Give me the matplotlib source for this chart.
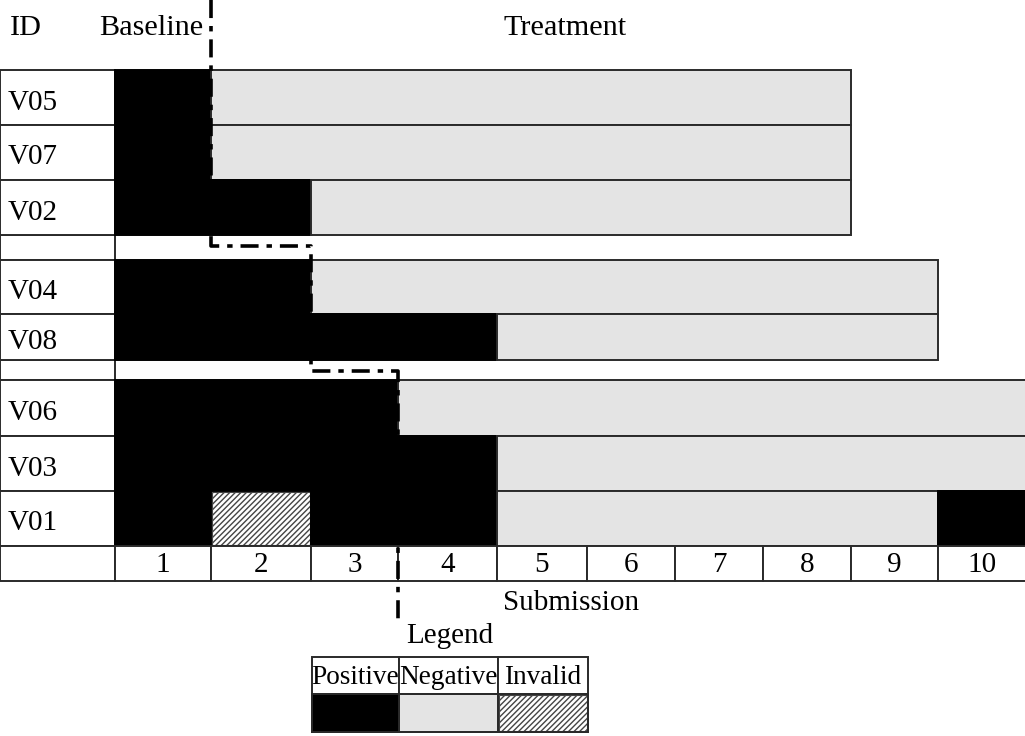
import matplotlib
matplotlib.use("Agg")
import matplotlib.pyplot as plt
from matplotlib.patches import Rectangle

plt.rcParams['font.family'] = ['Liberation Serif', 'DejaVu Serif']
plt.rcParams['hatch.linewidth'] = 1.0

# ---------------- data ----------------
participant_ids = ['V05', 'V07', 'V02', 'V04', 'V08', 'V06', 'V03', 'V01']
participant_group = [0, 0, 0, 1, 1, 2, 2, 2]
# outcome per submission: P = positive, N = negative, I = invalid
outcomes = [
    list('PNNNNNNN'),
    list('PNNNNNNN'),
    list('PPNNNNNN'),
    list('PPNNNNNNN'),
    list('PPPPNNNNN'),
    list('PPPNNNNNNN'),
    list('PPPPNNNNNN'),
    list('PIPPNNNNNP'),
]
submissions = [1, 2, 3, 4, 5, 6, 7, 8, 9, 10]
baseline_sessions = [1, 2, 3]          # baseline length per group
legend_labels = ['Positive', 'Negative', 'Invalid']
legend_codes = ['P', 'N', 'I']

# ---------------- layout (pixels) ----------------
W, H = 1025, 736
col_edges = [0, 115, 211, 311, 398, 497, 587, 675, 763, 851, 938, 1030]
row_tops = [70, 125, 180, 260, 314, 380, 436, 491]
row_bottoms = [125, 180, 235, 314, 360, 436, 491, 546]
gap_rows = [(235, 260), (360, 380)]
sub_row = (546, 581)
FS = 21
FS_HEAD = 21.8
EDGE = '#2a2a2a'
LW = 1.4
NEG = '#e4e4e4'

fig = plt.figure(figsize=(W / 100, H / 100), dpi=100)
ax = fig.add_axes([0, 0, 1, 1])
ax.set_xlim(0, W)
ax.set_ylim(H, 0)
ax.axis('off')


def cell(x0, x1, y0, y1, code=None):
    if code == 'P':
        r = Rectangle((x0, y0), x1 - x0, y1 - y0, facecolor='black', edgecolor='black', lw=LW)
    elif code == 'N':
        r = Rectangle((x0, y0), x1 - x0, y1 - y0, facecolor=NEG, edgecolor=EDGE, lw=LW)
    elif code == 'I':
        r = Rectangle((x0, y0), x1 - x0, y1 - y0, facecolor='white', edgecolor='#444444',
                      lw=0.8, hatch='//////')
    else:
        r = Rectangle((x0, y0), x1 - x0, y1 - y0, facecolor='white', edgecolor=EDGE, lw=LW)
    ax.add_patch(r)
    return r


# header
ax.text(10, 28, 'ID', fontsize=FS_HEAD, va='center', ha='left')
ax.text(99, 28, 'Baseline', fontsize=FS_HEAD, va='center', ha='left')
ax.text(565, 28, 'Treatment', fontsize=FS_HEAD, va='center', ha='center')

# gap rows (ID column cell + white area)
for (g0, g1) in gap_rows:
    cell(col_edges[0], col_edges[1], g0, g1)

# participant rows
for i, pid in enumerate(participant_ids):
    y0, y1 = row_tops[i], row_bottoms[i]
    cell(col_edges[0], col_edges[1], y0, y1)
    ax.text(8, (y0 + y1) / 2 + 5, pid, fontsize=FS, va='center', ha='left')
    seq = outcomes[i]
    # merge consecutive runs of the same outcome (invalid stays single)
    j = 0
    while j < len(seq):
        k = j
        while k + 1 < len(seq) and seq[k + 1] == seq[j] and seq[j] != 'I':
            k += 1
        x0 = col_edges[submissions[j]]
        x1 = col_edges[submissions[k] + 1]
        if seq[j] == 'I':
            cell(x0 + 1, x1 - 1, y0 + 1, y1 - 1, 'I')
        else:
            cell(x0, x1, y0, y1, seq[j])
        j = k + 1

# submission row
cell(col_edges[0], col_edges[1], sub_row[0], sub_row[1])
for s in submissions:
    x0, x1 = col_edges[s], col_edges[s + 1]
    cell(x0, x1, sub_row[0], sub_row[1])
    xc = (x0 + min(x1, W)) / 2
    ax.text(xc, (sub_row[0] + sub_row[1]) / 2 + 2, str(s), fontsize=FS,
            va='center', ha='center')
ax.text(571, 603, 'Submission', fontsize=FS, va='center', ha='center')

# baseline staircase (dash-dot)
xs, ys = [], []
y_start = 0
for g, nb in enumerate(baseline_sessions):
    x = col_edges[nb + 1]
    if g < len(gap_rows):
        y_end = (gap_rows[g][0] + gap_rows[g][1]) / 2 - (2 if g == 0 else -1)
    else:
        y_end = 622
    xs += [x, x]
    ys += [y_start, y_end]
    y_start = y_end
ax.plot(xs, ys, color='black', lw=2.6, linestyle=(0, (5, 2.2, 1.5, 2.2)),
        solid_capstyle='butt', zorder=10)

# legend
leg_cols = [3, 4, 5]
ax.text((col_edges[4] + col_edges[5]) / 2 + 2, 636, 'Legend', fontsize=FS,
        va='center', ha='center')
for lab, code, c in zip(legend_labels, legend_codes, leg_cols):
    x0, x1 = col_edges[c] + 1, col_edges[c + 1] + 1
    cell(x0, x1, 657, 694)
    ax.text((x0 + x1) / 2, 677, lab, fontsize=19.6, va='center', ha='center')
    if code == 'I':
        cell(x0, x1, 694, 732)
        cell(x0 + 1, x1 - 1, 695, 731, 'I')
    else:
        cell(x0, x1, 694, 732, code)
    ax.add_patch(Rectangle((x0, 694), x1 - x0, 38, facecolor='none',
                           edgecolor=EDGE, lw=LW))

fig.savefig('out.png', dpi=100)
